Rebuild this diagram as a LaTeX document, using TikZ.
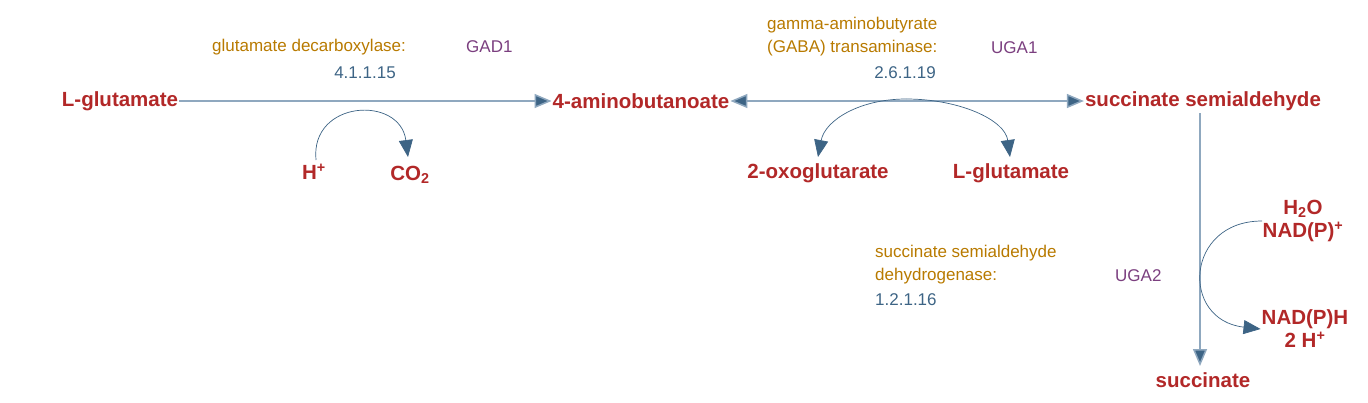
\documentclass[tikz,border=0pt]{standalone}
\usepackage{fontspec}
\setmainfont{Liberation Sans}
\usetikzlibrary{arrows.meta}
\definecolor{cpd}{RGB}{178,40,40}
\definecolor{enz}{RGB}{184,122,0}
\definecolor{gene}{RGB}{123,63,127}
\definecolor{ec}{RGB}{61,100,133}
\definecolor{ln}{RGB}{143,168,191}
\begin{document}
\begin{tikzpicture}[x=1pt,y=-1pt,
 cp/.style={text=cpd,font=\fontsize{20.5}{23}\selectfont\bfseries,inner sep=1pt,align=center},
 en/.style={text=enz,font=\fontsize{17}{19}\selectfont,inner sep=0pt},
 gn/.style={text=gene,font=\fontsize{17}{19}\selectfont,inner sep=0pt},
 ecs/.style={text=ec,font=\fontsize{17}{19}\selectfont,inner sep=0pt},
 main/.style={draw=ln,line width=1.5pt,-{Triangle[length=17pt,width=14pt,fill=ec]}},
 side/.style={draw=ec,line width=0.7pt,-{Triangle[length=17pt,width=14pt,fill=ec]}}]
\useasboundingbox (0,0) rectangle (1368,402);
\node[cp] (glu) at (120,101) {L-glutamate};
\node[cp] (gaba) at (641,101) {4-aminobutanoate};
\node[cp] (ssa) at (1203,101) {succinate semialdehyde};
\node[cp] (hp) at (314,172) {H\textsuperscript{+}};
\node[cp] (co2) at (410,175) {CO\textsubscript{2}};
\node[cp] (oxo) at (818,173) {2-oxoglutarate};
\node[cp] (glu2) at (1011,173) {L-glutamate};
\node[cp] (suc) at (1203,380) {succinate};
\node[cp] (h2o) at (1303,221) {H\textsubscript{2}O\\NAD(P)\textsuperscript{+}};
\node[cp] (nadh) at (1305,329) {NAD(P)H\\2 H\textsuperscript{+}};
\node[en,anchor=west] at (212,47) {glutamate decarboxylase:};
\node[gn,anchor=west] at (466,47) {GAD1};
\node[ecs] at (365,73) {4.1.1.15};
\node[en,anchor=west] at (767,25) {gamma-aminobutyrate};
\node[en,anchor=west] at (767,48) {(GABA) transaminase:};
\node[gn,anchor=west] at (991,48) {UGA1};
\node[ecs] at (905,73) {2.6.1.19};
\node[en,anchor=west] at (875,253) {succinate semialdehyde};
\node[en,anchor=west] at (875,276) {dehydrogenase:};
\node[gn,anchor=west] at (1115,276) {UGA2};
\node[ecs,anchor=west] at (875,300) {1.2.1.16};
\draw[main] (glu.east) -- (gaba.west);
\draw[main,{Triangle[length=17pt,width=14pt,fill=ec]}-{Triangle[length=17pt,width=14pt,fill=ec]}] (gaba.east) -- (ssa.west);
\draw[main] (1200,113) -- (1200,366);
\draw[side] (316,160) .. controls (310,100) and (400,95) .. (408,157);
\coordinate (tm) at (906,99);
\draw[side] (tm) .. controls (860,99) and (825,120) .. (818,157);
\draw[side] (tm) .. controls (960,99) and (1005,120) .. (1010,157);
\draw[side] (1262,221) .. controls (1185,221) and (1180,320) .. (nadh.west);
\end{tikzpicture}
\end{document}
